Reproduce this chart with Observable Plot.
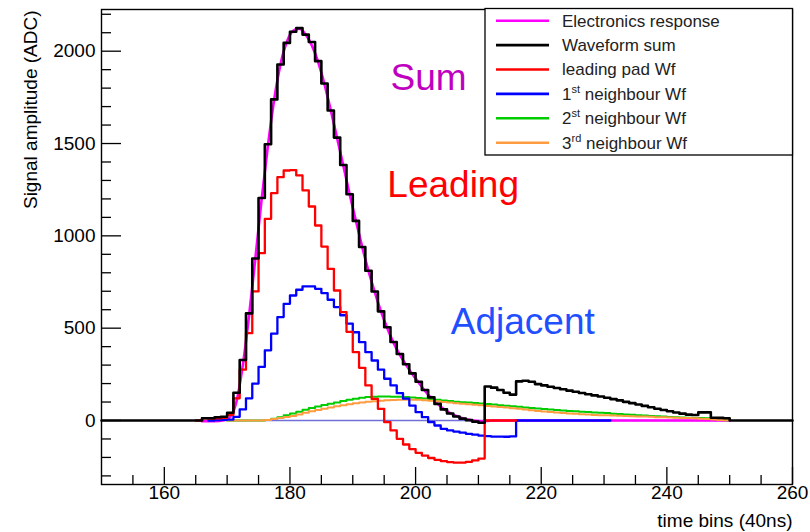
<!DOCTYPE html>
<html><head><meta charset="utf-8">
<script src="https://cdn.jsdelivr.net/npm/d3@7"></script>
<script src="https://cdn.jsdelivr.net/npm/@observablehq/plot@0.6"></script>
<style>
html,body{margin:0;padding:0;background:#fff;}
#chart{width:810px;height:532px;}
</style></head><body><div id="chart"></div>
<script>
// ---------------- data ----------------
const sumStart = 150;
const waveformSum = [
  0,0,0,0,0,0,0,0,0,0,0,0,0,0,0,0,
  12,12,18,20,42,150,328,580,877,1205,
  1496,1739,1928,2045,2105,2125,2090,2050,1946,1825,
  1679,1532,1384,1225,1081,940,811,699,591,505,
  425,360,305,255,210,165,125,90,60,38,
  22,10,2,-6,-12,184,178,165,150,140,
  212,215,210,197,190,183,176,169,162,156,
  149,142,136,130,123,116,109,101,94,87,
  79,72,64,57,50,43,37,32,30,44,
  44,15,14,12,0,0,0,0,0,0,
  0,0,0,0
];
const leadStart = 165;
const leadingPad = [
  0,12,10,12,14,30,120,275,473,699,
  906,1092,1231,1318,1354,1356,1327,1246,1159,1056,
  942,821,704,587,480,370,285,190,117,63,
  -9,-54,-99,-130,-155,-175,-190,-203,-213,-220,
  -225,-228,-228,-224,-216,-206,0,0,0,0,
  0
];
const n1Start = 167;
const neighbour1 = [
  0,2,3,5,20,60,120,200,290,380,
  470,560,632,677,708,726,726,713,690,654,
  614,570,525,478,424,370,325,275,226,190,
  148,118,81,45,18,-9,-27,-45,-54,-60,
  -66,-72,-77,-82,-85,-87,-87,-88,-86,0,
  0,0,0,0,0,0,0,0,0,0,
  0,0,0,0
];
const n2Start = 170;
const neighbour2 = [
  0,0,0,0,0,0,3,10,18,28,
  38,48,58,68,76,84,91,98,105,112,
  118,123,127,129,130,130,129,128,127,125,
  122,119,116,112,108,105,102,99,97,95,
  92,89,86,83,80,77,74,71,68,65,
  62,59,57,54,52,50,48,46,44,42,
  40,37,35,33,31,29,27,25,23,21,
  19,17,16,15,14,13,12,8,4,2
];
const n3Start = 170;
const neighbour3 = [
  0,0,0,0,0,0,3,8,13,19,
  25,33,42,50,57,64,71,77,83,88,
  93,97,101,104,107,109,111,112,113,113,
  112,110,107,104,100,97,94,91,88,85,
  82,79,76,73,70,67,63,60,56,52,
  49,46,43,40,38,36,34,32,30,29,
  28,27,26,25,23,22,21,20,18,17,
  16,15,14,13,12,10,8,5,3,1
];
const responseTime = [166,168,169.5,170.5,171.5,172.5,173.5,174.5,175.5,176.5,177.5,178.5,179.5,180.5,181.5,182.5,183.5,184.5,185.5,186.5,187.5,188.5,189.5,190.5,191.5,192.5,193.5,194.5,195.5,196.5,197.5,198.5,199.5,200.5,201.5,202.5,203.5,204.5,205.5,206.5,207.5,208.5,209.5,210.5,211.5,212.5,250];
const responseValue = [-4,-4,2,20,105,300,570,880,1200,1490,1740,1930,2050,2110,2122,2090,2030,1940,1820,1680,1530,1380,1225,1080,940,810,695,590,500,420,355,300,250,205,160,122,90,62,40,24,12,4,-2,-4,-2,0,0];
const zeroLineRange = [167, 250];

const xTicksMajor = [160,180,200,220,240,260];
const xTicksMinor = [155,165,170,175,185,190,195,205,210,215,225,230,235,245,250,255];
const yTicksMajor = [0,500,1000,1500,2000];
const yTicksMinor = [-300,-200,-100,100,200,300,400,600,700,800,900,1100,1200,1300,1400,1600,1700,1800,1900,2100,2200];

const legendLabels = [["Electronics response"],["Waveform sum"],["leading pad Wf"],["1","st"," neighbour Wf"],["2","st"," neighbour Wf"],["3","rd"," neighbour Wf"]];
const legendColors = ["#ff00ff","#000000","#ff0000","#0000ff","#00cc00","#ff9c40"];

const annotationText = ["Sum","Leading","Adjacent"];
const annotationX = [196.0, 195.5, 205.6];
const annotationY = [1852, 1273, 531];
const annotationColor = ["#c000c0","#ff0000","#1f4fff"];

const xTitle = "time bins (40ns)";
const yTitle = "Signal amplitude (ADC)";

// ---------------- helpers ----------------
const steps = (start, vals) => {
  const pts = vals.map((v, i) => ({t: start + i, v}));
  pts.push({t: start + vals.length, v: vals[vals.length - 1]});
  return pts;
};
const response = responseTime.map((t, i) => ({t, v: responseValue[i]}));
const annotations = annotationText.map((s, i) => ({s, t: annotationX[i], v: annotationY[i], c: annotationColor[i]}));

const FONT = "'Liberation Sans', Arial, Helvetica, sans-serif";
const plain = d => String(d);

const chart = Plot.plot({
  width: 810, height: 532,
  marginLeft: 101, marginRight: 18, marginTop: 9, marginBottom: 48,
  style: {fontFamily: FONT, fontSize: "19px", color: "#000", background: "#fff", overflow: "visible"},
  x: {domain: [150, 260]},
  y: {domain: [-346.6, 2225.8]},
  marks: [
    Plot.ruleY([0], {x1: zeroLineRange[0], x2: zeroLineRange[1], stroke: "#7070d8", strokeWidth: 1.5}),
    Plot.line(response, {x: "t", y: "v", curve: "monotone-x", stroke: "#ff00ff", strokeWidth: 2.6}),
    Plot.line(steps(n2Start, neighbour2), {x: "t", y: "v", curve: "step-after", stroke: "#00cc00", strokeWidth: 2}),
    Plot.line(steps(n3Start, neighbour3), {x: "t", y: "v", curve: "step-after", stroke: "#ff9c40", strokeWidth: 2}),
    Plot.line(steps(n1Start, neighbour1), {x: "t", y: "v", curve: "step-after", stroke: "#0000ff", strokeWidth: 2.3}),
    Plot.line(steps(leadStart, leadingPad), {x: "t", y: "v", curve: "step-after", stroke: "#ff0000", strokeWidth: 2.3}),
    Plot.line(steps(sumStart, waveformSum), {x: "t", y: "v", curve: "step-after", stroke: "#000000", strokeWidth: 2.6}),
    Plot.text(annotations, {x: "t", y: "v", text: "s", fill: "c", textAnchor: "start", lineAnchor: "middle", fontSize: 37}),
    Plot.frame({stroke: "#000", strokeWidth: 1.4}),
    Plot.axisY(yTicksMajor, {tickSize: -20, tickFormat: () => "", label: null, strokeWidth: 1.3}),
    Plot.axisY(yTicksMinor, {tickSize: -10, tickFormat: () => "", label: null, strokeWidth: 1.3}),
    Plot.axisY(yTicksMajor, {tickSize: 0, tickPadding: 6, tickFormat: plain, label: null, fontSize: 19}),
    Plot.axisX(xTicksMajor, {tickSize: -17, tickFormat: () => "", label: null, strokeWidth: 1.3}),
    Plot.axisX(xTicksMinor, {tickSize: -9, tickFormat: () => "", label: null, strokeWidth: 1.3}),
    Plot.axisX(xTicksMajor, {tickSize: 0, tickPadding: 1, tickFormat: plain, label: null, fontSize: 19}),
    Plot.text([yTitle], {frameAnchor: "top-left", rotate: -90, textAnchor: "end", lineAnchor: "middle", dx: -71, dy: 1, fontSize: 19}),
    Plot.text([xTitle], {frameAnchor: "bottom-right", textAnchor: "end", lineAnchor: "middle", dy: 36, fontSize: 19})
  ]
});
document.getElementById("chart").appendChild(chart);

// ---------------- legend (inside frame, top right) ----------------
const svg = d3.select(chart);
const lg = svg.append("g").attr("font-family", FONT).attr("font-size", 17).attr("text-anchor", "start");
lg.append("rect").attr("x", 485).attr("y", 8.5).attr("width", 307.5).attr("height", 146.5)
  .attr("fill", "#fff").attr("stroke", "#000").attr("stroke-width", 1.3);
legendLabels.forEach((parts, i) => {
  const y = 20.7 + i * 24.4;
  lg.append("line").attr("x1", 496).attr("x2", 549).attr("y1", y).attr("y2", y)
    .attr("stroke", legendColors[i]).attr("stroke-width", 2.6);
  const t = lg.append("text").attr("x", 562).attr("y", y).attr("dy", "0.35em")
    .attr("fill", "#222").attr("text-anchor", "start");
  if (parts.length === 1) {
    t.text(parts[0]);
  } else {
    t.append("tspan").text(parts[0]);
    t.append("tspan").attr("dy", -7).attr("font-size", 11).text(parts[1]);
    t.append("tspan").attr("dy", 7).text(parts[2]);
  }
});
</script>
</body></html>
